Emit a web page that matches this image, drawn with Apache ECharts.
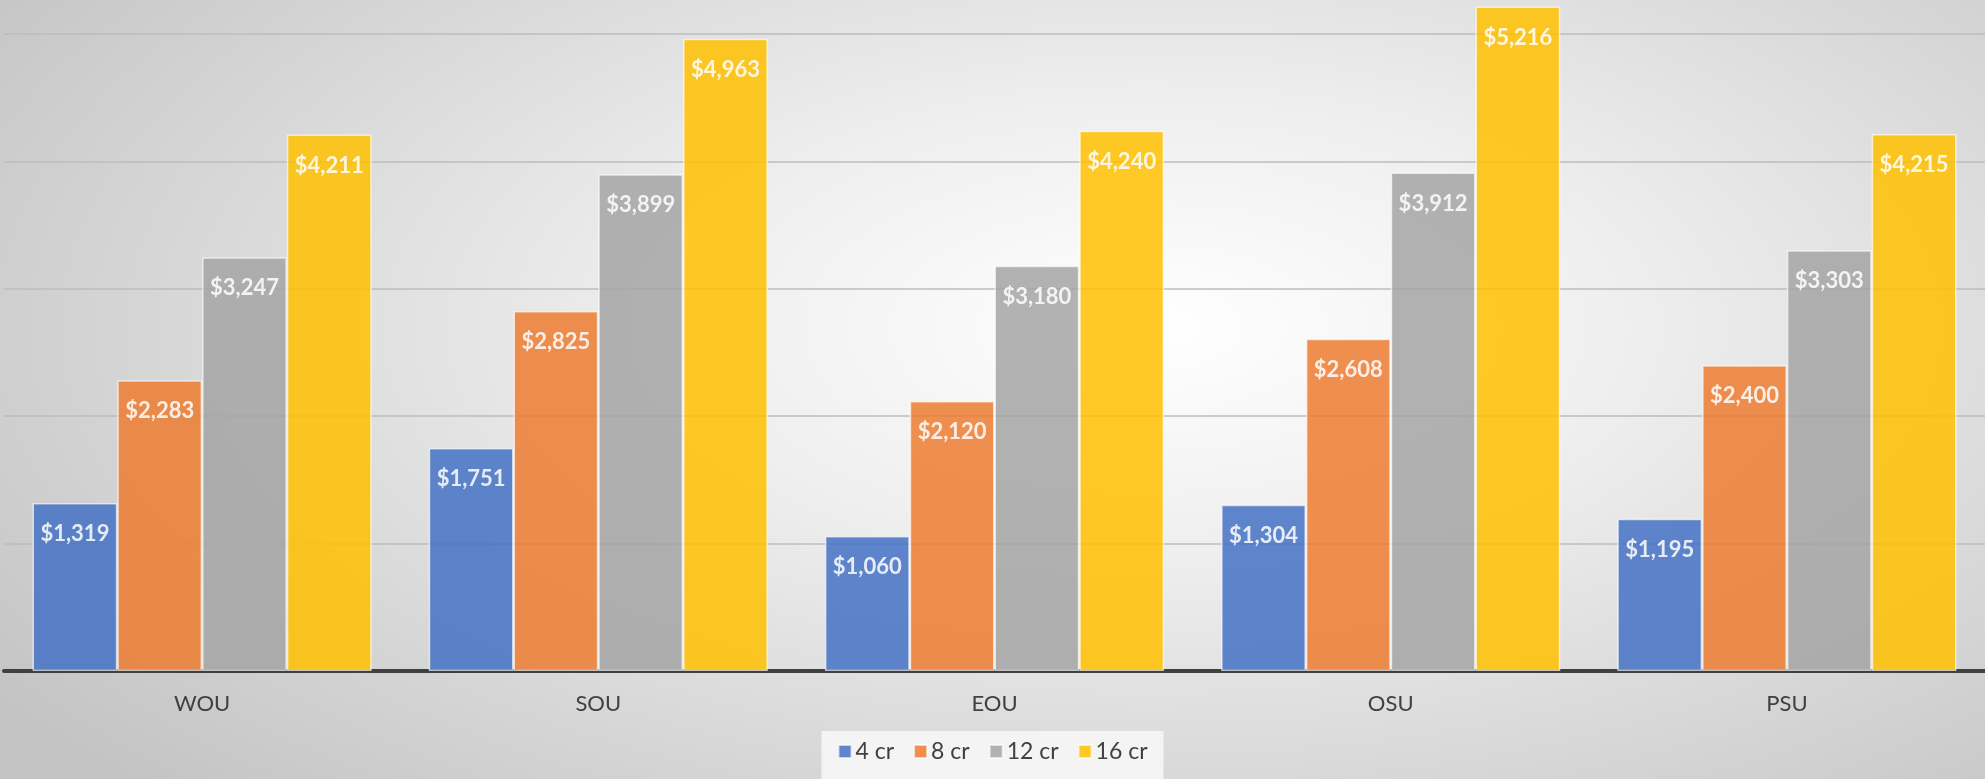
<!DOCTYPE html>
<html>
<head>
<meta charset="utf-8">
<script src="https://cdn.jsdelivr.net/npm/echarts@6/dist/echarts.min.js"></script>
<style>
  html, body { margin: 0; padding: 0; }
  #chart {
    width: 1985px; height: 779px;
    background: radial-gradient(ellipse 70% 85% at 58% 42%, #ffffff 0%, #eeeeee 35%, #d4d4d4 75%, #c4c4c4 100%);
  }
</style>
</head>
<body>
<div id="chart"></div>
<script>
const categories = ['WOU', 'SOU', 'EOU', 'OSU', 'PSU'];
const seriesNames = ['4 cr', '8 cr', '12 cr', '16 cr'];
const cr4 = [1319, 1751, 1060, 1304, 1195];
const cr8 = [2283, 2825, 2120, 2608, 2400];
const cr12 = [3247, 3899, 3180, 3912, 3303];
const cr16 = [4211, 4963, 4240, 5216, 4215];
const colors = ['#4472C4', '#ED7D31', '#A5A5A5', '#FFC000'];

const chart = echarts.init(document.getElementById('chart'));
const fmt = p => '$' + p.value.toLocaleString('en-US');
const mk = (name, data, i) => ({
  name: name,
  type: 'bar',
  data: data,
  barGap: 0,
  barCategoryGap: '14.4%',
  clip: false,
  itemStyle: { color: colors[i], opacity: 0.85, borderColor: 'rgba(255,255,255,0.75)', borderWidth: 1.5 },
  label: {
    show: true, position: 'insideTop', distance: 20,
    color: '#ffffff', fontFamily: 'Lato', fontWeight: 'bold', fontSize: 22,
    formatter: fmt
  },
  emphasis: { disabled: true }
});
chart.setOption({
  animation: false,
  backgroundColor: 'transparent',
  color: colors,
  grid: { left: 4, width: 1993, top: 34, bottom: 108, containLabel: false },
  legend: {
    bottom: -6, left: 'center',
    backgroundColor: 'rgba(248,248,248,0.85)',
    padding: [9, 16, 22, 16],
    itemWidth: 13, itemHeight: 13, itemGap: 19,
    icon: 'rect',
    textStyle: { fontFamily: 'Lato', fontSize: 23, color: '#404040', padding: [0, 0, 0, -1] },
    data: seriesNames
  },
  xAxis: {
    type: 'category',
    data: categories,
    axisLine: { lineStyle: { color: '#404040', width: 4 } },
    axisTick: { show: false },
    axisLabel: { fontFamily: 'Lato', fontSize: 22, color: '#404040', margin: 22 }
  },
  yAxis: {
    type: 'value',
    min: 0, max: 5000, interval: 1000,
    axisLabel: { show: false },
    axisLine: { show: false },
    axisTick: { show: false },
    splitLine: { lineStyle: { color: '#bdbdbd', width: 1.5 } }
  },
  series: [mk(seriesNames[0], cr4, 0), mk(seriesNames[1], cr8, 1), mk(seriesNames[2], cr12, 2), mk(seriesNames[3], cr16, 3)]
});
</script>
</body>
</html>
